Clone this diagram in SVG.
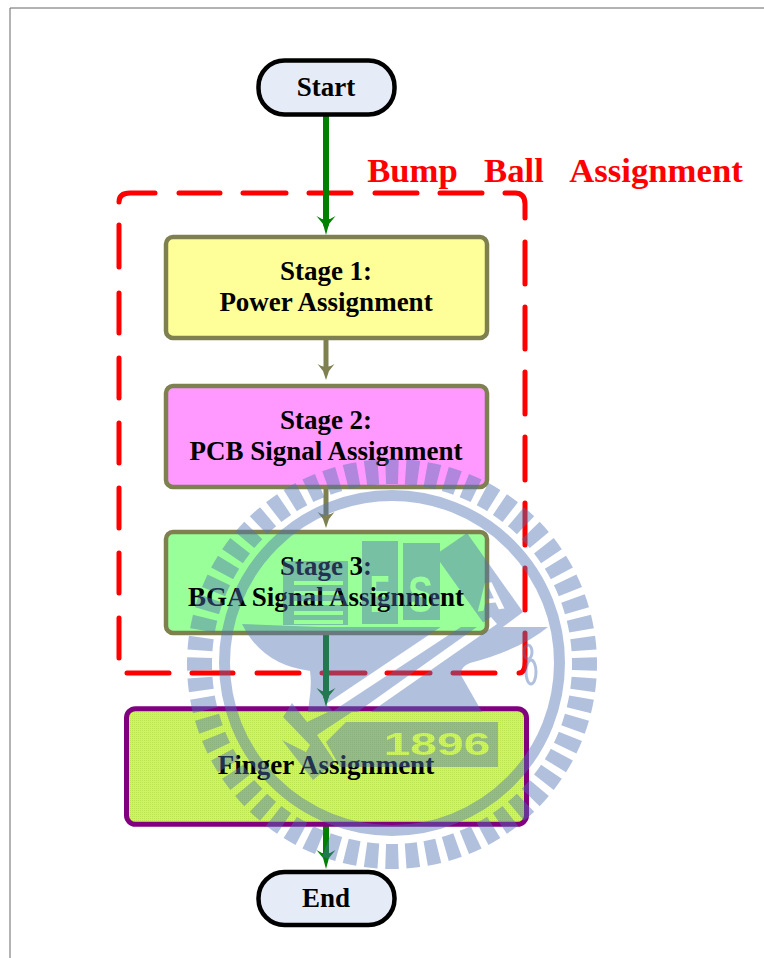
<svg xmlns="http://www.w3.org/2000/svg" width="764" height="958" viewBox="0 0 764 958">
<style>
text{font-family:"Liberation Serif","Times New Roman",serif;font-weight:bold;text-anchor:middle;fill:#000}
.lbl{font-size:27px}
.term{fill:#e6ecf7;stroke:#000;stroke-width:4.5}
.stage{stroke:#7f8050;stroke-width:4.5}
.red{font-size:34.7px;fill:#f00}
.mk{font-family:"Liberation Sans",Arial,sans-serif;font-weight:bold;fill:#000;text-anchor:middle}
</style>
<defs>
<marker id="ag" markerUnits="userSpaceOnUse" markerWidth="22" markerHeight="22" refX="8" refY="10" orient="auto"><path d="M0 0.500L8 7L19 10L8 13L0 19.500Q7 10 0 0.500Z" fill="#008000"/></marker>
<marker id="ao" markerUnits="userSpaceOnUse" markerWidth="22" markerHeight="22" refX="7" refY="9" orient="auto"><path d="M0 0.500L7 6L16 9L7 12L0 17.500Q6 9 0 0.500Z" fill="#7f8050"/></marker>
<pattern id="dots" width="2" height="2" patternUnits="userSpaceOnUse"><rect width="2" height="2" fill="#ccf566"/><rect width="1" height="1" fill="#bde44f"/></pattern>
<mask id="wm" maskUnits="userSpaceOnUse" x="0" y="0" width="764" height="958">
<rect width="764" height="958" fill="#fff"/>
<path d="M326 704L333 711L470 621L463 612ZM356 713L362 718L497 624L491 617Z" fill="#000"/>
<text class="mk" transform="translate(437 755) scale(1.5 1)" font-size="32">1896</text>
<text class="mk" transform="translate(380 612) scale(.6 1)" font-size="51">E</text>
<text class="mk" transform="translate(420.500 612) scale(.75 1)" font-size="50">S</text>
<text class="mk" transform="translate(491 610) rotate(-6)" font-size="40">A</text>
<path d="M294 583H343M294 593H343M294 603H343M294 613H343M294 622H343" stroke="#000" stroke-width="4"/>
</mask>
</defs>
<rect width="764" height="958" fill="#fff"/>
<path id="frame" d="M10 958V8H764" fill="none" stroke="#666" stroke-width="1"/>
<g id="region">
<path d="M119 202Q119 193 130 193H155M179 193H220M243 193H286M309 193H351M375 193H417M440 193H482M505 193H515Q525 193 525 204V218M525 242V284M525 307V349M525 372V414M525 437V480M525 503V545M525 568V610M525 633V662Q525 673 519 673M495 673H453M430 673H387M365 673H322M299 673H257M233 673H192M169 673H127M119 658V618M119 593V553M119 528V488M119 463V423M119 398V358M119 333V293M119 267V225" fill="none" stroke="#f00" stroke-width="5" stroke-linecap="round"/>
<text class="red" x="412.500" y="182">Bump</text><text class="red" x="514" y="182">Ball</text><text class="red" x="656" y="182">Assignment</text>
</g>
<g id="connectors" fill="none">
<path d="M326 113V224" stroke="#008000" stroke-width="6" stroke-linecap="round" marker-end="url(#ag)"/>
<path d="M326 338V371" stroke="#7f8050" stroke-width="5" marker-end="url(#ao)"/>
<path d="M326 487V519" stroke="#7f8050" stroke-width="5" marker-end="url(#ao)"/>
<path d="M326 632V696" stroke="#008000" stroke-width="6" stroke-linecap="round" marker-end="url(#ag)"/>
<path d="M326 824V858" stroke="#008000" stroke-width="6" marker-end="url(#ag)"/>
</g>
<g id="start"><rect class="term" x="258.500" y="60.500" width="136" height="54" rx="26"/><text class="lbl" x="326" y="96">Start</text></g>
<g id="stage1"><rect class="stage" x="166" y="237" width="321" height="101" rx="7" fill="#ffff99"/><text class="lbl" x="326" y="280">Stage 1:</text><text class="lbl" x="326" y="311">Power Assignment</text></g>
<g id="stage2"><rect class="stage" x="166" y="386" width="321" height="101" rx="7" fill="#ff99ff"/><text class="lbl" x="326" y="429">Stage 2:</text><text class="lbl" x="326" y="460">PCB Signal Assignment</text></g>
<g id="stage3"><rect class="stage" x="166" y="532" width="321" height="101" rx="7" fill="#99ff99"/><text class="lbl" x="326" y="575">Stage 3:</text><text class="lbl" x="326" y="606">BGA Signal Assignment</text></g>
<g id="finger"><rect x="126.500" y="708.700" width="400" height="115.600" rx="9" fill="url(#dots)" stroke="#800080" stroke-width="5"/><text class="lbl" x="326" y="774">Finger Assignment</text></g>
<g id="end"><rect class="term" x="258.500" y="872" width="136" height="53" rx="26"/><text class="lbl" x="326" y="907">End</text></g>
<g id="watermark" opacity=".44" fill="#4e72b4" mask="url(#wm)">
<circle cx="392" cy="664" r="192.500" fill="none" stroke="#4e72b4" stroke-width="25" pathLength="60" stroke-dasharray=".64 .36" stroke-dashoffset=".32"/>
<circle cx="392" cy="663" r="167.500" fill="none" stroke="#4e72b4" stroke-width="11"/>
<path d="M242 624L320 627H548Q520 650 470 663Q458 668 462 677L482 712H308L309 703Q312 685 310 671Q262 665 242 624Z"/>
<path d="M283 717L292 703L307 722L328 712H352L317 735L335 762L313 780L282 740L306 752L310 745Z"/>
<path d="M346 722H498V767H340L326 742Z"/>
<path d="M283 561H348V625H283Z"/>
<path d="M362 541H398V624H362Z"/>
<path d="M403 543H440V620H403Z"/>
<path d="M435 555L467 533L523 612L492 635Z"/>
<ellipse cx="528" cy="652" rx="4" ry="7" fill="none" stroke="#4e72b4" stroke-width="3"/>
<ellipse cx="531" cy="672" rx="5" ry="12" fill="none" stroke="#4e72b4" stroke-width="3"/>
</g>
</svg>
